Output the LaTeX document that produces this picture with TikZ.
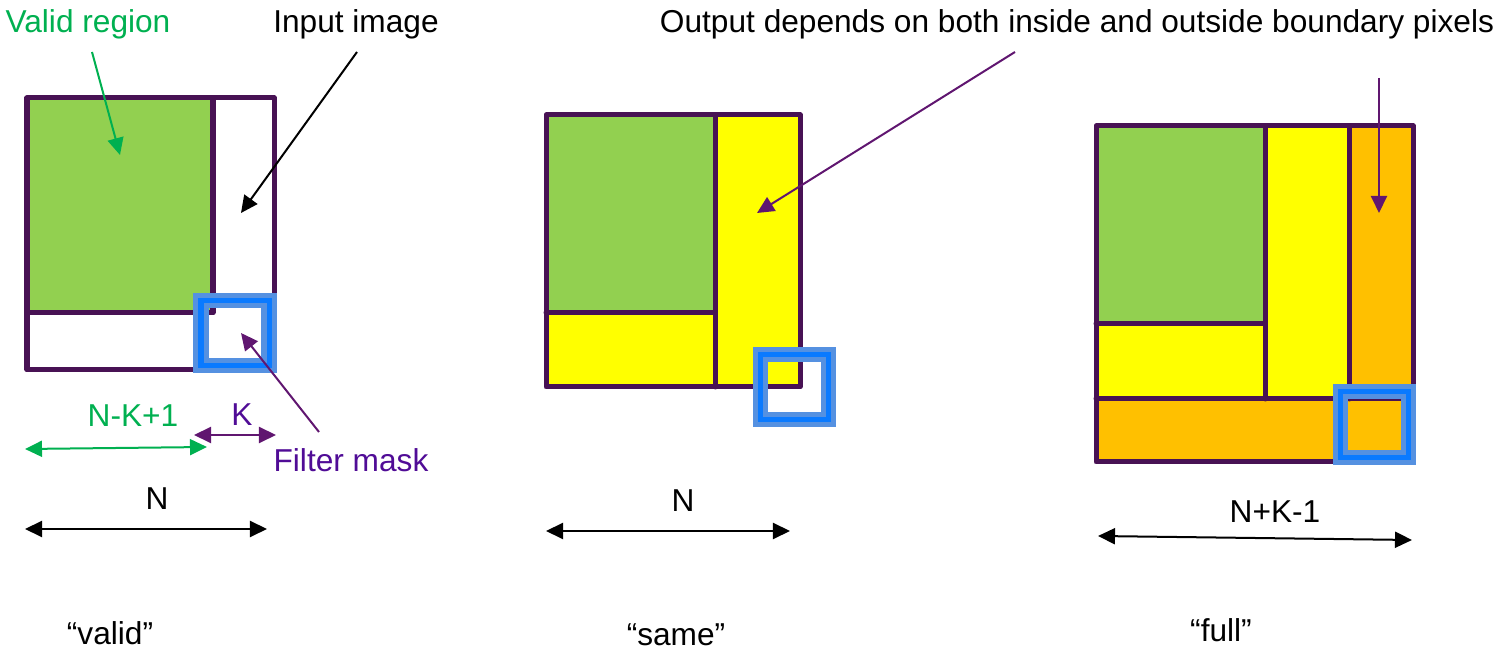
\documentclass[tikz,border=0pt]{standalone}
\usepackage{fontspec}
\setmainfont{Liberation Sans}
\usetikzlibrary{arrows.meta}
\definecolor{edgepurple}{RGB}{72,18,84}
\definecolor{validgreen}{RGB}{146,208,80}
\definecolor{textgreen}{RGB}{0,176,80}
\definecolor{sameyellow}{RGB}{255,255,0}
\definecolor{fullorange}{RGB}{255,192,0}
\definecolor{masklight}{RGB}{85,145,225}
\definecolor{maskdark}{RGB}{10,122,255}
\definecolor{arrowpurple}{RGB}{96,22,112}
\definecolor{textpurple}{RGB}{80,12,150}
\begin{document}
\begin{tikzpicture}[x=0.01cm, y=-0.01cm,
  lbl/.style={font=\fontsize{9}{11}\selectfont, inner sep=0pt, anchor=base},
  region/.style={draw=edgepurple, line width=0.05cm, line join=round, line cap=round},
  mask/.style={draw=masklight, line width=0.15cm, postaction={draw=maskdark, line width=0.05cm}},
  pointer/.style={line width=0.02cm, -{Triangle[length=0.17cm, width=0.16cm]}},
  span/.style={line width=0.02cm, {Triangle[length=0.17cm, width=0.16cm]}-{Triangle[length=0.17cm, width=0.16cm]}}
]
  \useasboundingbox (0,0) rectangle (1499,652);

  % "valid": input image with the valid region
  \fill[validgreen] (27,98) rectangle (213,313);
  \draw[region] (27,98) rectangle (274,370);
  \draw[region] (213,98) -- (213,313) -- (27,313);
  \draw[mask] (201,301) rectangle (269,366);

  % "same"
  \fill[sameyellow] (546,115) rectangle (800,387);
  \fill[validgreen] (546,115) rectangle (715,313);
  \draw[region] (546,115) rectangle (800,387);
  \draw[region] (715,115) -- (715,387);
  \draw[region] (546,313) -- (715,313);
  \draw[mask] (760,355) rectangle (828,420);

  % "full"
  \fill[fullorange] (1096,126) rectangle (1413,462);
  \fill[sameyellow] (1096,126) rectangle (1349,399);
  \fill[validgreen] (1096,126) rectangle (1265,324);
  \draw[region] (1096,126) rectangle (1413,462);
  \draw[region] (1265,126) -- (1265,399);
  \draw[region] (1349,126) -- (1349,399);
  \draw[region] (1096,399) -- (1413,399);
  \draw[region] (1096,324) -- (1265,324);
  \draw[mask] (1340,392) rectangle (1408,458);

  % labels on top
  \node[lbl, text=textgreen] (lblvalid) at (88,33) {Valid region};
  \node[lbl] (lblinput) at (356,33) {Input image};
  \node[lbl] (lbloutput) at (1077,33) {Output depends on both inside and outside boundary pixels};
  \node[lbl, text=textpurple] (lblmask) at (351,472) {Filter mask};

  % pointers
  \coordinate (validfrom) at (92,52);
  \coordinate (validtip) at (120,155);
  \coordinate (inputfrom) at (357,52);
  \coordinate (inputtip) at (241,213);
  \coordinate (maskfrom) at (319,432);
  \coordinate (masktip) at (241,333);
  \coordinate (outfrom) at (1015,52);
  \coordinate (outtip) at (757,213);
  \coordinate (fullfrom) at (1379,78);
  \coordinate (fulltip) at (1379,213);
  \draw[pointer, textgreen] (validfrom) -- (validtip);
  \draw[pointer, black] (inputfrom) -- (inputtip);
  \draw[pointer, arrowpurple] (maskfrom) -- (masktip);
  \draw[pointer, arrowpurple] (outfrom) -- (outtip);
  \draw[pointer, arrowpurple] (fullfrom) -- (fulltip);

  % widths
  \coordinate (nk1l) at (25,449);
  \coordinate (nk1r) at (207,447);
  \coordinate (kl) at (194,435);
  \coordinate (kr) at (276,435);
  \coordinate (nvl) at (25,529);
  \coordinate (nvr) at (267,529);
  \coordinate (nsl) at (546,531);
  \coordinate (nsr) at (790,531);
  \coordinate (nfl) at (1098,536);
  \coordinate (nfr) at (1412,540);
  \draw[span, textgreen] (nk1l) -- (nk1r);
  \draw[span, arrowpurple] (kl) -- (kr);
  \draw[span, black] (nvl) -- (nvr);
  \draw[span, black] (nsl) -- (nsr);
  \draw[span, black] (nfl) -- (nfr);
  \node[lbl, text=textgreen] (lblnk1) at (133,427) {N-K+1};
  \node[lbl, text=textpurple] (lblk) at (242,426) {K};
  \node[lbl] (lblnv) at (157,510) {N};
  \node[lbl] (lblns) at (683,512) {N};
  \node[lbl] (lblnf) at (1275,523) {N+K-1};

  % mode names
  \node[lbl] (modevalid) at (110,645) {“valid”};
  \node[lbl] (modesame) at (676,646) {“same”};
  \node[lbl] (modefull) at (1221,642) {“full”};
\end{tikzpicture}
\end{document}
